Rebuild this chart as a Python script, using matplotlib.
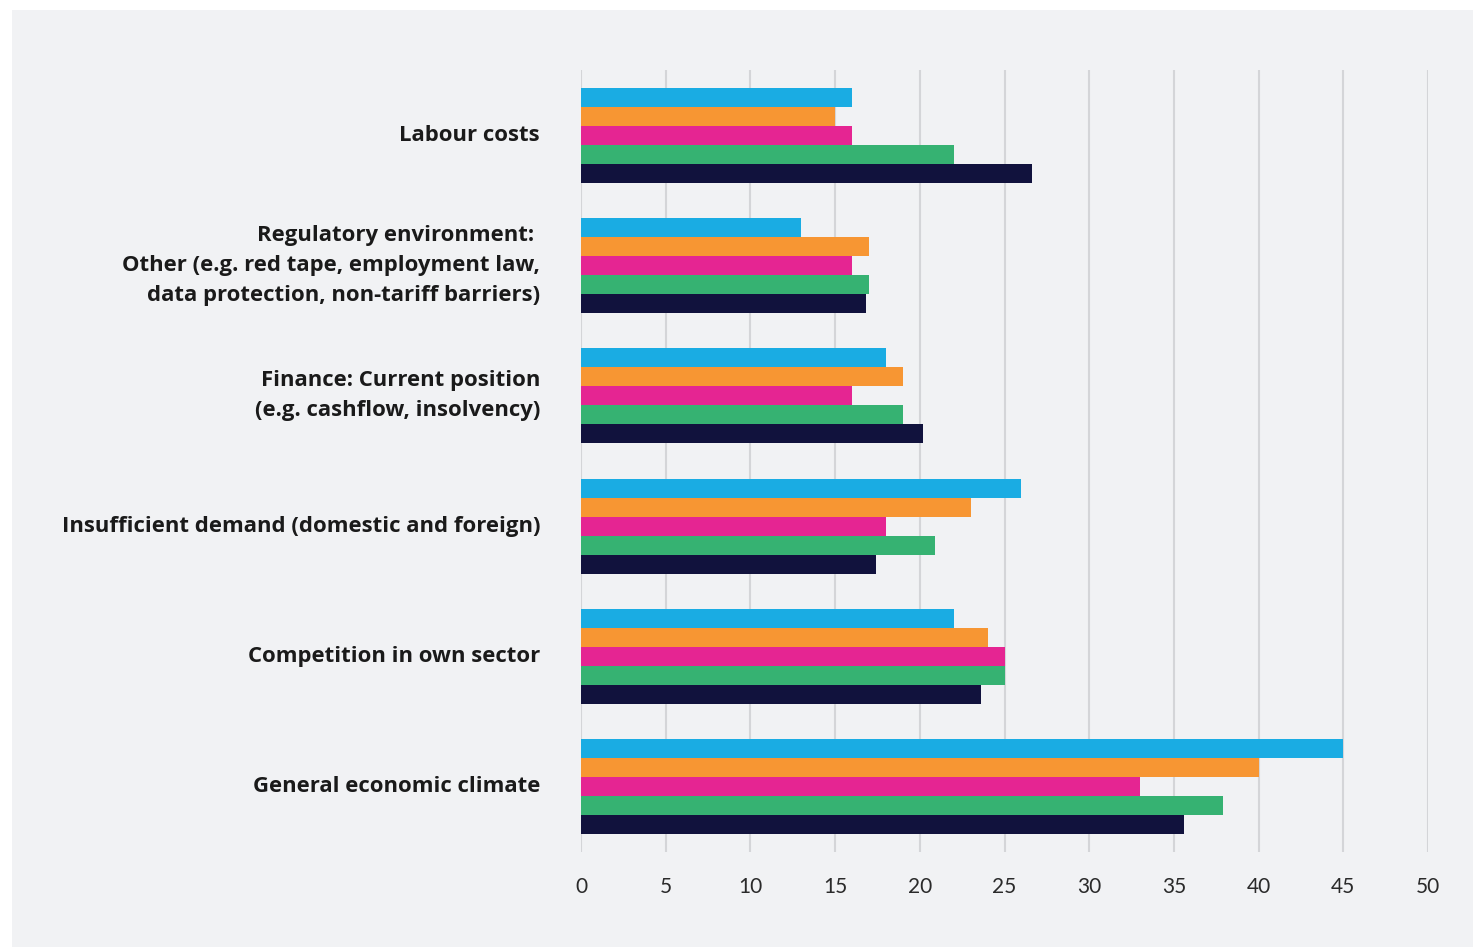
import matplotlib
matplotlib.use("Agg")
import matplotlib.pyplot as plt
from matplotlib.patches import Rectangle
import numpy as np

categories = [
    "Labour costs",
    "Regulatory environment: \nOther (e.g. red tape, employment law,\ndata protection, non-tariff barriers)",
    "Finance: Current position\n(e.g. cashflow, insolvency)",
    "Insufficient demand (domestic and foreign)",
    "Competition in own sector",
    "General economic climate",
]
series_names = ["Series 1", "Series 2", "Series 3", "Series 4", "Series 5"]
series_values = [
    [16, 13, 18, 26, 22, 45],          # cyan
    [15, 17, 19, 23, 24, 40],          # orange
    [16, 16, 16, 18, 25, 33],          # pink
    [22, 17, 19, 20.9, 25, 37.9],      # green
    [26.6, 16.8, 20.2, 17.4, 23.6, 35.6],  # navy
]
colors = ["#1aace3", "#f79633", "#e52592", "#36b272", "#11123d"]
x_ticks = [0, 5, 10, 15, 20, 25, 30, 35, 40, 45, 50]

BG = "#f1f2f4"
fig = plt.figure(figsize=(14.73, 9.47), dpi=100)
fig.patch.set_facecolor("white")
fig.patches.append(Rectangle((12 / 1473, 0), 1 - 12 / 1473, 1 - 10 / 947,
                             transform=fig.transFigure, facecolor=BG,
                             edgecolor="none", zorder=-10))

ax = fig.add_axes([581 / 1473, 1 - 852 / 947, (1428 - 581) / 1473, (852 - 70) / 947])
ax.set_facecolor(BG)
ax.patch.set_alpha(0)

n_cat = len(categories)
ypos = np.arange(n_cat)[::-1]  # first category at top
bar_h = 0.146
for i, (vals, c) in enumerate(zip(series_values, colors)):
    offset = (2 - i) * bar_h
    ax.barh(ypos + offset, vals, height=bar_h, color=c, zorder=3,
            label=series_names[i])

ax.set_xlim(0, 50)
ax.set_ylim(-0.5, n_cat - 0.5)
ax.set_xticks(x_ticks)
ax.set_xticklabels([str(t) for t in x_ticks], fontsize=15, color="#2a2a2a",
                   fontfamily="Lato")
ax.set_yticks(ypos)
ax.set_yticklabels(categories, fontsize=15.9, fontweight="bold", color="#1a1a1a",
                   fontfamily="Open Sans", linespacing=1.55, ha="right",
                   va="center")
ax.tick_params(axis="y", length=0, pad=29.5)
ax.tick_params(axis="x", length=0, pad=18)
ax.grid(axis="x", color="#d4d5d8", linewidth=1.5, zorder=0)
for s in ax.spines.values():
    s.set_visible(False)

fig.savefig("out.png", dpi=100, facecolor=fig.get_facecolor())
